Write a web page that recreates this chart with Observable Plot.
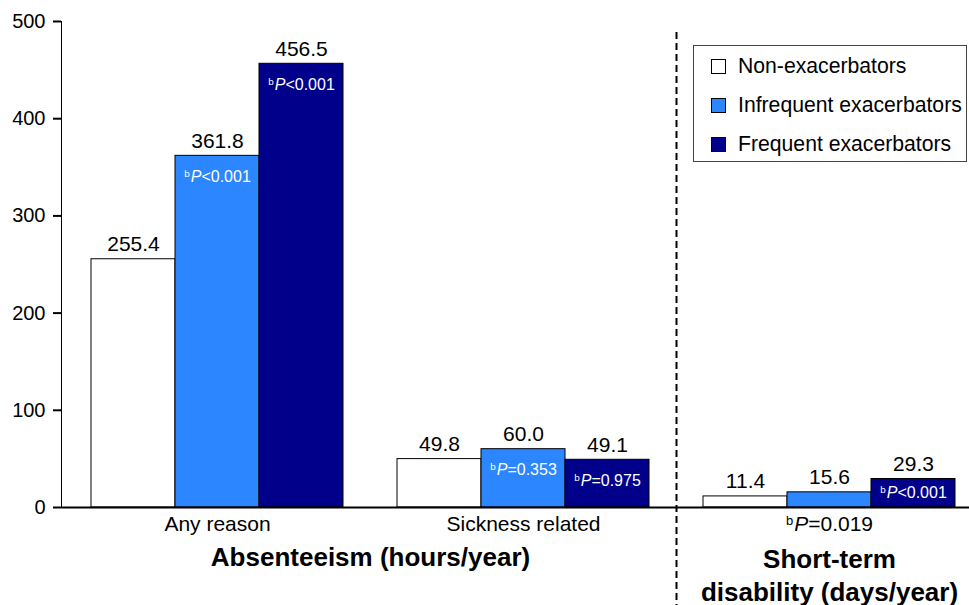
<!DOCTYPE html>
<html>
<head>
<meta charset="utf-8">
<script src="https://cdn.jsdelivr.net/npm/d3@7"></script>
<script src="https://cdn.jsdelivr.net/npm/@observablehq/plot@0.6"></script>
<style>
  html, body { margin: 0; padding: 0; background: #fff; }
  #wrap { position: relative; width: 969px; height: 605px; font-family: "Liberation Sans", Arial, sans-serif; }
  #legend { position: absolute; left: 693px; top: 45px; width: 272px; height: 115px; border: 1.5px solid #444; background: #fff; }
  #legend .item { position: absolute; left: 17px; display: flex; align-items: center; font-size: 21.2px; color: #000; white-space: nowrap; }
  #legend .sw { width: 15px; height: 15px; border: 1px solid #000; margin-right: 12px; box-sizing: border-box; }
  svg text { font-family: "Liberation Sans", Arial, sans-serif; }
</style>
</head>
<body>
<div id="wrap"></div>
<script>
// ---- data ----
const groups = ["Any reason", "Sickness related", "Short-term disability"];
const series = ["Non-exacerbators", "Infrequent exacerbators", "Frequent exacerbators"];
const nonExacerbators = [255.4, 49.8, 11.4];
const infrequentExacerbators = [361.8, 60.0, 15.6];
const frequentExacerbators = [456.5, 49.1, 29.3];
const infrequentP = ["ᵇP<0.001", "ᵇP=0.353", null];
const frequentP = ["ᵇP<0.001", "ᵇP=0.975", "ᵇP<0.001"];
const groupTickLabels = ["Any reason", "Sickness related", "ᵇP=0.019"];
const sectionTitles = ["Absenteeism (hours/year)", "Short-term\ndisability (days/year)"];
const yTicks = [0, 100, 200, 300, 400, 500];
const colors = ["#ffffff", "#2b86ff", "#00008b"];

// ---- layout ----
const W = 969, H = 605, mL = 61, mR = 0, mT = 21, mB = 98;
const padIn = 54 / 306, padOut = 22 / 306, align = 0.69;
const step = (W - mL - mR) / (groups.length - padIn + 2 * padOut);
const bandwidth = step * (1 - padIn);
const sub = bandwidth / series.length;

const allValues = [nonExacerbators, infrequentExacerbators, frequentExacerbators];
const rows = [];
allValues.forEach((vals, si) => vals.forEach((v, gi) => rows.push({group: groups[gi], series: series[si], si, value: v})));
const pRows = [];
[[1, infrequentP], [2, frequentP]].forEach(([si, arr]) => arr.forEach((p, gi) => {
  if (p) pRows.push({group: groups[gi], si, value: allValues[si][gi], p});
}));

const marks = [];
series.forEach((s, si) => {
  const d = rows.filter(r => r.si === si);
  marks.push(Plot.barY(d, {x: "group", y: "value", fill: colors[si], stroke: "#000", strokeWidth: 1,
    insetLeft: si * sub, insetRight: (series.length - 1 - si) * sub}));
  marks.push(Plot.text(d, {x: "group", y: "value", text: r => r.value.toFixed(1), dx: (si - 1) * sub, dy: -8,
    lineAnchor: "bottom", fontSize: 21, fill: "#000"}));
});
[1, 2].forEach(si => {
  const tall = pRows.filter(r => r.si === si && r.value >= 40);
  const short = pRows.filter(r => r.si === si && r.value < 40);
  marks.push(Plot.text(tall, {x: "group", y: "value", text: "p", dx: (si - 1) * sub, dy: 21, fontSize: 16, fill: "#fff"}));
  marks.push(Plot.text(short, {x: "group", y: r => r.value / 2, text: "p", dx: (si - 1) * sub, fontSize: 16, fill: "#fff"}));
});
marks.push(Plot.ruleY([0], {stroke: "#000", strokeWidth: 2}));
marks.push(Plot.text(groups, {x: d => d, text: (d, i) => groupTickLabels[i], frameAnchor: "bottom", dy: 23, fontSize: 21, fill: "#000"}));
marks.push(Plot.text([sectionTitles[0]], {x: () => groups[1], text: d => d, dx: -step / 2, frameAnchor: "bottom", dy: 58,
  fontSize: 26, fontWeight: "bold", fill: "#000"}));
marks.push(Plot.text([sectionTitles[1]], {x: () => groups[2], text: d => d, frameAnchor: "bottom", dy: 93,
  fontSize: 26, fontWeight: "bold", lineHeight: 1.24, fill: "#000"}));
marks.push(Plot.ruleX([groups[2]], {x: d => d, dx: -step / 2, insetTop: 11, insetBottom: -mB, stroke: "#000",
  strokeWidth: 2, strokeDasharray: "7,4"}));

const chart = Plot.plot({
  width: W, height: H, marginLeft: mL, marginRight: mR, marginTop: mT, marginBottom: mB,
  style: {fontFamily: "Liberation Sans, Arial, sans-serif", fontSize: "20px", color: "#000", background: "#fff", overflow: "visible"},
  x: {type: "band", domain: groups, paddingInner: padIn, paddingOuter: padOut, align, axis: null},
  y: {domain: [0, 500], ticks: yTicks, tickSize: 8, tickPadding: 8, line: true, label: null, tickFormat: d => String(d)},
  marks
});

const wrap = document.getElementById("wrap");
wrap.appendChild(chart);

// italic P with superscript b
d3.select(chart).selectAll("text").each(function () {
  const t = d3.select(this);
  const node = this;
  if (node.children.length) return;
  const s = node.textContent;
  if (!s || s[0] !== "ᵇ") return;
  const rest = s.slice(2);
  t.text(null);
  t.append("tspan").attr("font-size", "0.62em").attr("baseline-shift", "50%").text("b");
  t.append("tspan").attr("font-style", "italic").attr("dx", "1").text("P");
  t.append("tspan").text(rest);
});
d3.select(chart).selectAll("[aria-label='y-axis'] path, [aria-label='y-axis'] line, [aria-label='y-axis tick'] path").attr("stroke-width", 2);

// legend
const legend = document.createElement("div");
legend.id = "legend";
series.forEach((s, i) => {
  const item = document.createElement("div");
  item.className = "item";
  item.style.top = (21 + 39 * i - 13) + "px";
  const sw = document.createElement("span");
  sw.className = "sw";
  sw.style.background = colors[i];
  const label = document.createElement("span");
  label.textContent = s;
  item.appendChild(sw);
  item.appendChild(label);
  legend.appendChild(item);
});
wrap.appendChild(legend);
</script>
</body>
</html>
